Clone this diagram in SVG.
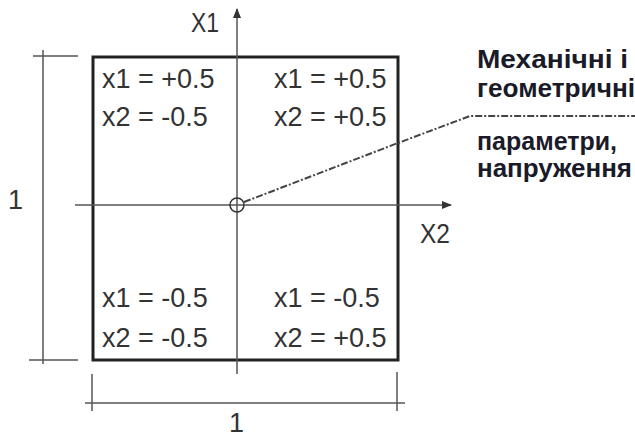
<svg xmlns="http://www.w3.org/2000/svg" width="635" height="439" viewBox="0 0 635 439">
<style>
.t{font-family:"Liberation Sans",Arial,sans-serif;font-size:27px;fill:#333}
.b{font-family:"Liberation Sans",Arial,sans-serif;font-size:25px;font-weight:bold;fill:#1a1a28}
.thin{stroke:#555;stroke-width:1.5;fill:none}
</style>
<defs>
<marker id="ar" markerWidth="10" markerHeight="8" refX="9" refY="4" orient="auto" markerUnits="userSpaceOnUse">
<path d="M0,0 L10,4 L0,8 Z" fill="#333"/>
</marker>
</defs>
<rect width="635" height="439" fill="#fff"/>
<g id="square">
<rect x="93" y="57" width="305" height="303" fill="none" stroke="#222" stroke-width="3"/>
</g>
<g id="connectors">
<line class="thin" x1="237" y1="374" x2="237" y2="9" marker-end="url(#ar)"/>
<line class="thin" x1="75" y1="205" x2="451" y2="205" marker-end="url(#ar)"/>
<polyline points="244,202 398,143 470,116 635,116" fill="none" stroke="#444" stroke-width="2" stroke-dasharray="7,2,2,2"/>
<line class="thin" x1="43" y1="50" x2="43" y2="364"/>
<line class="thin" x1="33" y1="56" x2="78" y2="56"/>
<line class="thin" x1="29" y1="360" x2="78" y2="360"/>
<line class="thin" x1="85" y1="403" x2="405" y2="403"/>
<line class="thin" x1="92" y1="374" x2="92" y2="411"/>
<line class="thin" x1="397" y1="372" x2="397" y2="411"/>
</g>
<g id="origin">
<circle cx="237" cy="205" r="7" fill="none" stroke="#333" stroke-width="1.5"/>
</g>
<g id="axis-labels">
<text class="t" x="191" y="32" textLength="28" lengthAdjust="spacingAndGlyphs">X1</text>
<text class="t" x="420" y="243" textLength="30" lengthAdjust="spacingAndGlyphs">X2</text>
<text class="t" x="8" y="209">1</text>
<text class="t" x="229" y="432">1</text>
</g>
<g id="q1">
<text class="t" x="102" y="88">x1 = +0.5</text>
<text class="t" x="102" y="126">x2 = -0.5</text>
</g>
<g id="q2">
<text class="t" x="274" y="88">x1 = +0.5</text>
<text class="t" x="274" y="126">x2 = +0.5</text>
</g>
<g id="q3">
<text class="t" x="102" y="307">x1 = -0.5</text>
<text class="t" x="102" y="347">x2 = -0.5</text>
</g>
<g id="q4">
<text class="t" x="274" y="307">x1 = -0.5</text>
<text class="t" x="274" y="347">x2 = +0.5</text>
</g>
<g id="note">
<text class="b" x="477" y="68" textLength="151" lengthAdjust="spacingAndGlyphs">Механічні і</text>
<text class="b" x="477" y="97" textLength="158" lengthAdjust="spacingAndGlyphs">геометричні</text>
<text class="b" x="477" y="150" textLength="140" lengthAdjust="spacingAndGlyphs">параметри,</text>
<text class="b" x="477" y="177" textLength="155" lengthAdjust="spacingAndGlyphs">напруження</text>
</g>
</svg>
